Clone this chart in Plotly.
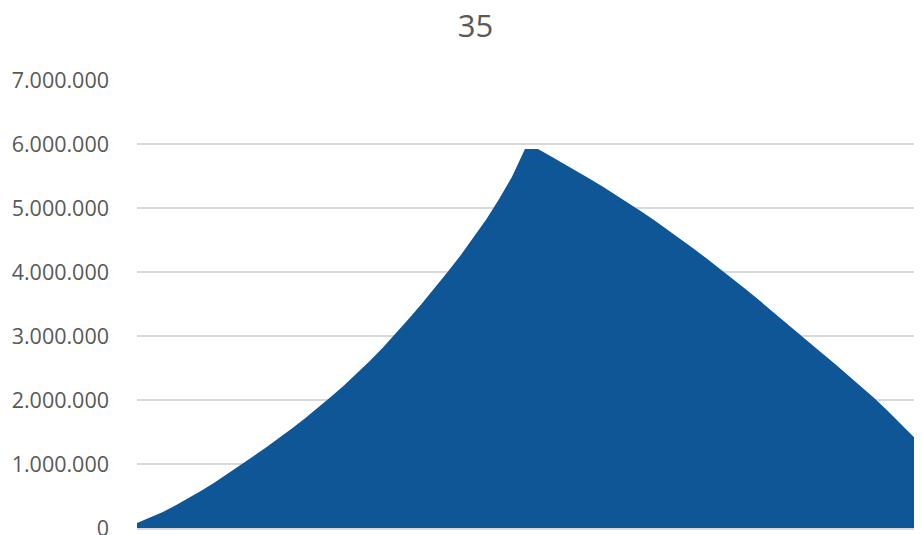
import plotly.graph_objects as go

title_text = "35"
days = list(range(62))
values_millions = [
    0.08, 0.16, 0.25, 0.355, 0.466, 0.585, 0.712, 0.845, 0.985, 1.122,
    1.263, 1.409, 1.560, 1.716, 1.879, 2.050, 2.228, 2.414, 2.608, 2.815,
    3.035, 3.265, 3.50, 3.745, 3.995, 4.255, 4.53, 4.82, 5.14, 5.49,
    5.92, 5.92, 5.81, 5.695, 5.578, 5.458, 5.335, 5.208, 5.078, 4.945,
    4.807, 4.665, 4.52, 4.37, 4.217, 4.062, 3.903, 3.741, 3.577, 3.410,
    3.241, 3.070, 2.898, 2.728, 2.557, 2.384, 2.208, 2.030, 1.839, 1.642,
    1.440, 1.233,
]
values = [v * 1_000_000 for v in values_millions]
y_ticks = [0, 1_000_000, 2_000_000, 3_000_000, 4_000_000, 5_000_000, 6_000_000, 7_000_000]

W, H = 914, 527

fig = go.Figure()
fig.add_trace(go.Scatter(
    x=days, y=values, mode="lines", fill="tozeroy",
    line=dict(width=0, color="#0E5696"), fillcolor="#0E5696",
    hoverinfo="skip", showlegend=False,
))

fig.update_layout(
    width=W, height=H,
    margin=dict(l=129, r=0, t=72, b=7),
    paper_bgcolor="white", plot_bgcolor="white",
    separators=",.",
    title=dict(text=title_text, x=(475.5 - 8) / W, xanchor="center",
               y=1 - (26 - 8) / H, yanchor="middle", xref="container", yref="container",
               automargin=False,
               font=dict(family="Open Sans", size=31, color="#595959")),
    font=dict(family="Open Sans", color="#595959"),
)
fig.update_xaxes(range=[0, 60.7], showgrid=False, showticklabels=False, zeroline=False,
                 showline=True, linecolor="#D9D9D9", linewidth=1.5, ticks="", automargin=False)
fig.update_yaxes(range=[0, 7_000_000], tickvals=y_ticks, tickformat=",d",
                 showgrid=True, gridcolor="#D9D9D9", gridwidth=1.5, zeroline=False,
                 showline=False, ticks="", ticklabelstandoff=27, ticklabeloverflow="allow",
                 automargin=False,
                 tickfont=dict(family="Open Sans", size=21.5, color="#595959"))

fig.write_html("out.html")
